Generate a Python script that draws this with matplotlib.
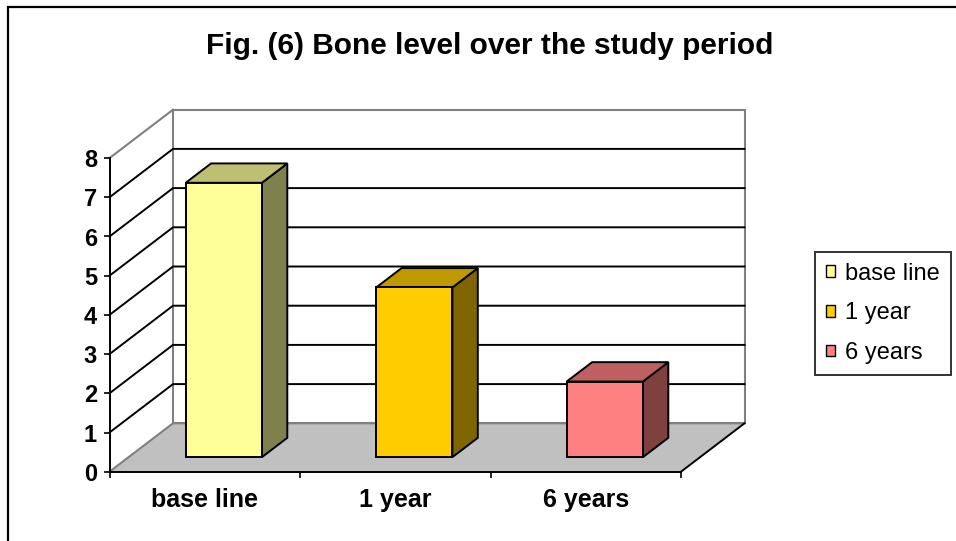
import numpy as np
import matplotlib.pyplot as plt
from matplotlib.patches import Polygon, Patch, Rectangle

plt.rcParams['font.family'] = ['Liberation Sans', 'DejaVu Sans']

# --- data ---
categories = ['base line', '1 year', '6 years']
bone_level = [7.0, 4.33, 1.93]
front_colors = ['#FFFF99', '#FFCC00', '#FF8080']
y_ticks = [0, 1, 2, 3, 4, 5, 6, 7, 8]
title = 'Fig. (6) Bone level over the study period'

# --- layout (pixels) ---
W, H = 956, 541
DPI = 100
x0_px, y0_px = 109.5, 471.7       # front origin of the floor
cat_px, unit_px = 190.5, 39.2      # px per category / px per value unit
DX, DY = 63.5 / cat_px, 48.4 / unit_px   # depth offset in data units
YMAX = 8


def proj(x, y, z):
    return (x + z * DX, y + z * DY)


def shade(c, f):
    r, g, b = [int(c[i:i + 2], 16) for i in (1, 3, 5)]
    return (r * f / 255, g * f / 255, b * f / 255)


fig = plt.figure(figsize=(W / DPI, H / DPI), dpi=DPI)
n = len(categories)
ax_w = (n + DX) * cat_px
ax_h = (YMAX + DY) * unit_px
ax = fig.add_axes([x0_px / W, (H - y0_px) / H, ax_w / W, ax_h / H])
ax.set_xlim(0, n + DX)
ax.set_ylim(0, YMAX + DY)

gray = '#808080'

# back wall
back = [proj(0, 0, 1), proj(n, 0, 1), proj(n, YMAX, 1), proj(0, YMAX, 1)]
ax.add_patch(Polygon(back, closed=True, facecolor='white', edgecolor=gray,
                     lw=1.5, zorder=1, clip_on=False))
# floor
floor = [proj(0, 0, 0), proj(n, 0, 0), proj(n, 0, 1), proj(0, 0, 1)]
ax.add_patch(Polygon(floor, closed=True, facecolor='#C0C0C0', edgecolor='none',
                     zorder=1, clip_on=False))
ax.plot(*zip(proj(0, 0, 0), proj(0, 0, 1), proj(n, 0, 1)), color=gray, lw=1.5,
        zorder=1.5, clip_on=False)
ax.plot(*zip(proj(n, 0, 0), proj(n, 0, 1)), color='black', lw=1.4,
        zorder=1.5, clip_on=False)
# side wall top edge
ax.plot(*zip(proj(0, YMAX, 0), proj(0, YMAX, 1)), color=gray, lw=1.5,
        zorder=1.5, clip_on=False)

# gridlines
for v in y_ticks[1:-1]:
    pts = [proj(0, v, 0), proj(0, v, 1), proj(n, v, 1)]
    ax.plot(*zip(*pts), color='black', lw=1.4, zorder=1.6, clip_on=False)

# bars
w, z0, z1 = 0.2, 0.3, 0.7
for i, (v, c) in enumerate(zip(bone_level, front_colors)):
    xc = i + 0.5
    front = [proj(xc - w, 0, z0), proj(xc + w, 0, z0), proj(xc + w, v, z0), proj(xc - w, v, z0)]
    top = [proj(xc - w, v, z0), proj(xc + w, v, z0), proj(xc + w, v, z1), proj(xc - w, v, z1)]
    side = [proj(xc + w, 0, z0), proj(xc + w, 0, z1), proj(xc + w, v, z1), proj(xc + w, v, z0)]
    for poly, f in ((side, 0.5), (top, 0.75), (front, 1.0)):
        ax.add_patch(Polygon(poly, closed=True, facecolor=shade(c, f),
                             edgecolor='black', lw=1.4, zorder=3,
                             joinstyle='miter', clip_on=False))

# axes / ticks
for s in ('top', 'right'):
    ax.spines[s].set_visible(False)
ax.spines['left'].set_bounds(0, YMAX)
ax.spines['bottom'].set_bounds(0, n)
for s in ('left', 'bottom'):
    ax.spines[s].set_linewidth(1.4)
    ax.spines[s].set_zorder(2)
ax.set_yticks(y_ticks)
ax.set_yticklabels([str(t) for t in y_ticks], fontsize=17, fontweight='bold')
ax.tick_params(axis='y', length=4, width=1.2, pad=5)
ax.set_xticks(np.arange(n + 1))
ax.set_xticklabels([])
ax.set_xticks(np.arange(n) + 0.5, minor=True)
ax.set_xticklabels(categories, minor=True, fontsize=18, fontweight='bold')
ax.tick_params(axis='x', which='major', length=4, width=1.2)
ax.tick_params(axis='x', which='minor', length=0, pad=12)
ax.patch.set_visible(False)

# title
fig.text(490 / W, 1 - 54 / H, title, ha='center', va='baseline',
         fontsize=21.5, fontweight='bold')

# legend
handles = [Patch(facecolor=c, edgecolor='black', lw=1.0) for c in front_colors]
leg = fig.legend(handles, categories, loc='upper left',
                 bbox_to_anchor=(815 / W, 1 - 252 / H), borderaxespad=0,
                 fontsize=17, frameon=True, fancybox=False, edgecolor='black',
                 handlelength=0.38, handleheight=0.38, handletextpad=0.45,
                 labelspacing=0.75, borderpad=0.45)
leg.get_frame().set_linewidth(1.4)

# outer chart border
fig.add_artist(Rectangle((8 / W, -0.1), 1.2, 1.1 - 7 / H, transform=fig.transFigure,
                         fill=False, edgecolor='black', lw=1.6))

fig.savefig('out.png', dpi=DPI)
